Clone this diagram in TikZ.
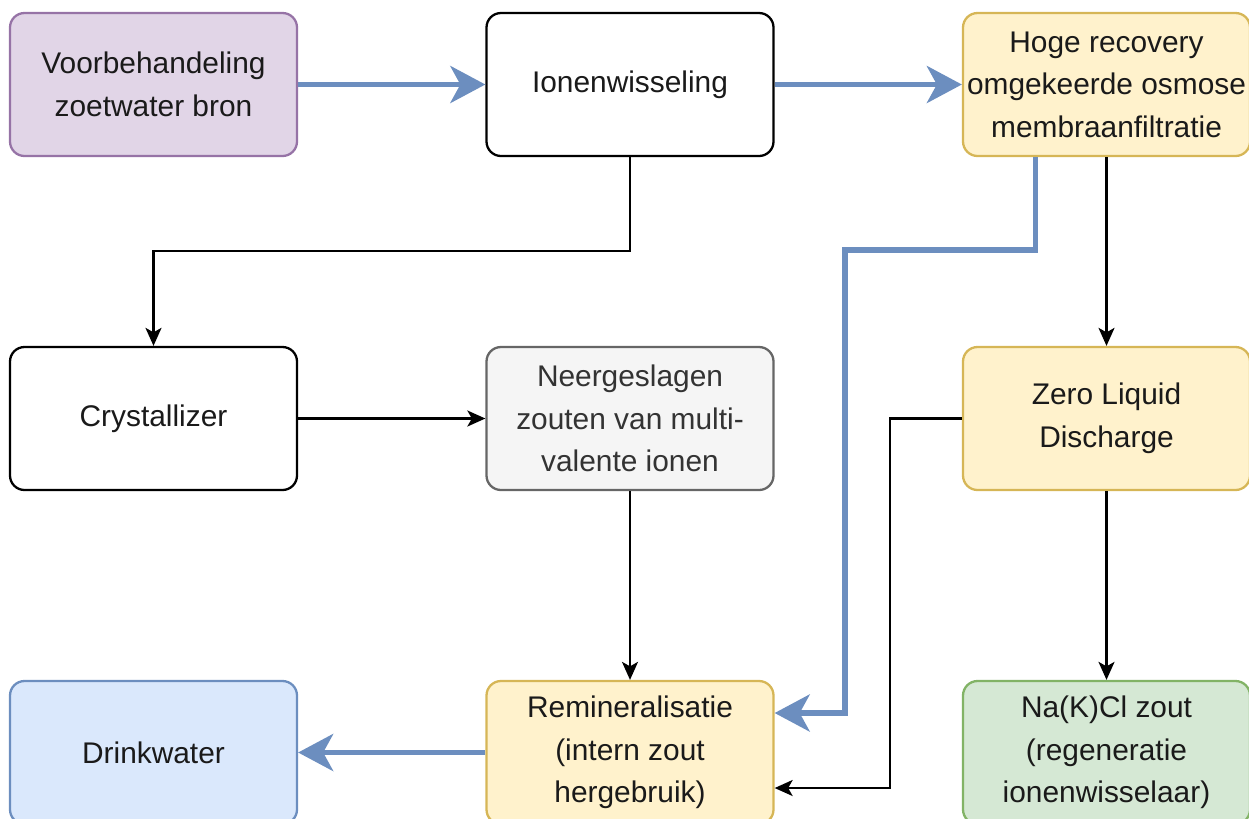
\documentclass[tikz,border=0pt]{standalone}
\usepackage{fontspec}
\setmainfont{Liberation Sans}
\usetikzlibrary{positioning,arrows.meta}
\definecolor{lilafill}{HTML}{E1D5E7}
\definecolor{lilaline}{HTML}{9673A6}
\definecolor{geelfill}{HTML}{FFF2CC}
\definecolor{geelline}{HTML}{D6B656}
\definecolor{grijsfill}{HTML}{F5F5F5}
\definecolor{grijsline}{HTML}{666666}
\definecolor{grijstext}{HTML}{333333}
\definecolor{blauwfill}{HTML}{DAE8FC}
\definecolor{blauwline}{HTML}{6C8EBF}
\definecolor{groenfill}{HTML}{D5E8D4}
\definecolor{groenline}{HTML}{82B366}
\definecolor{tekst}{HTML}{1A1A1A}
\begin{document}
\begin{tikzpicture}[auto ,node distance =6.68cm and 9.53cm ,on grid ,
line width=1.3pt ,
stap/.style ={rectangle ,rounded corners=0.29cm ,draw ,fill=white ,
  minimum width=5.74cm ,minimum height=2.86cm ,inner xsep=1pt ,align=center ,
  text=tekst ,font=\fontsize{17}{24.2}\selectfont},
lila/.style ={stap ,fill=lilafill ,draw=lilaline},
geel/.style ={stap ,fill=geelfill ,draw=geelline},
grijs/.style ={stap ,fill=grijsfill ,draw=grijsline ,text=grijstext},
blauw/.style ={stap ,fill=blauwfill ,draw=blauwline},
groen/.style ={stap ,fill=groenfill ,draw=groenline},
stroom/.style ={-{Stealth[length=0.36cm,width=0.32cm,inset=0.09cm]}},
water/.style ={draw=blauwline ,line width=3.2pt ,
  -{Stealth[length=0.7cm,width=0.74cm,inset=0.2cm]}}
]
\useasboundingbox (0,0) rectangle (24.98,-16.36);
\node[lila] (Voor) at (3.07,-1.69) {Voorbehandeling\\zoetwater bron};
\node[stap] (Ionen) [right = of Voor] {Ionenwisseling};
\node[geel] (Hoge) [right = of Ionen] {Hoge recovery\\omgekeerde osmose\\membraanfiltratie};
\node[stap] (Crys) [below = of Voor] {Crystallizer};
\node[grijs] (Neer) [right = of Crys] {Neergeslagen\\zouten van multi-\\valente ionen};
\node[geel] (ZLD) [right = of Neer] {Zero Liquid\\Discharge};
\node[blauw] (Drink) [below = of Crys] {Drinkwater};
\node[geel] (Remin) [right = of Drink] {Remineralisatie\\(intern zout\\hergebruik)};
\node[groen] (NaCl) [right = of Remin] {Na(K)Cl zout\\(regeneratie\\ionenwisselaar)};
\coordinate (Knik) at (16.9,-5.0);
% waterstroom
\draw[water] (Voor) -- (Ionen);
\draw[water] (Ionen) -- (Hoge);
\draw[water] ([xshift=-1.42cm]Hoge.south) |- (Knik) |- ([yshift=0.79cm]Remin.east);
\draw[water] (Remin) -- (Drink);
% zoutstroom
\draw[stroom] (Ionen.south) -- ++(0,-1.88) -| (Crys.north);
\draw[stroom] (Crys) -- (Neer);
\draw[stroom] (Neer) -- (Remin);
\draw[stroom] (Hoge) -- (ZLD);
\draw[stroom] (ZLD) -- (NaCl);
\draw[stroom] (ZLD.west) -- ++(-1.44,0) |- ([yshift=-0.71cm]Remin.east);
\end{tikzpicture}
\end{document}
